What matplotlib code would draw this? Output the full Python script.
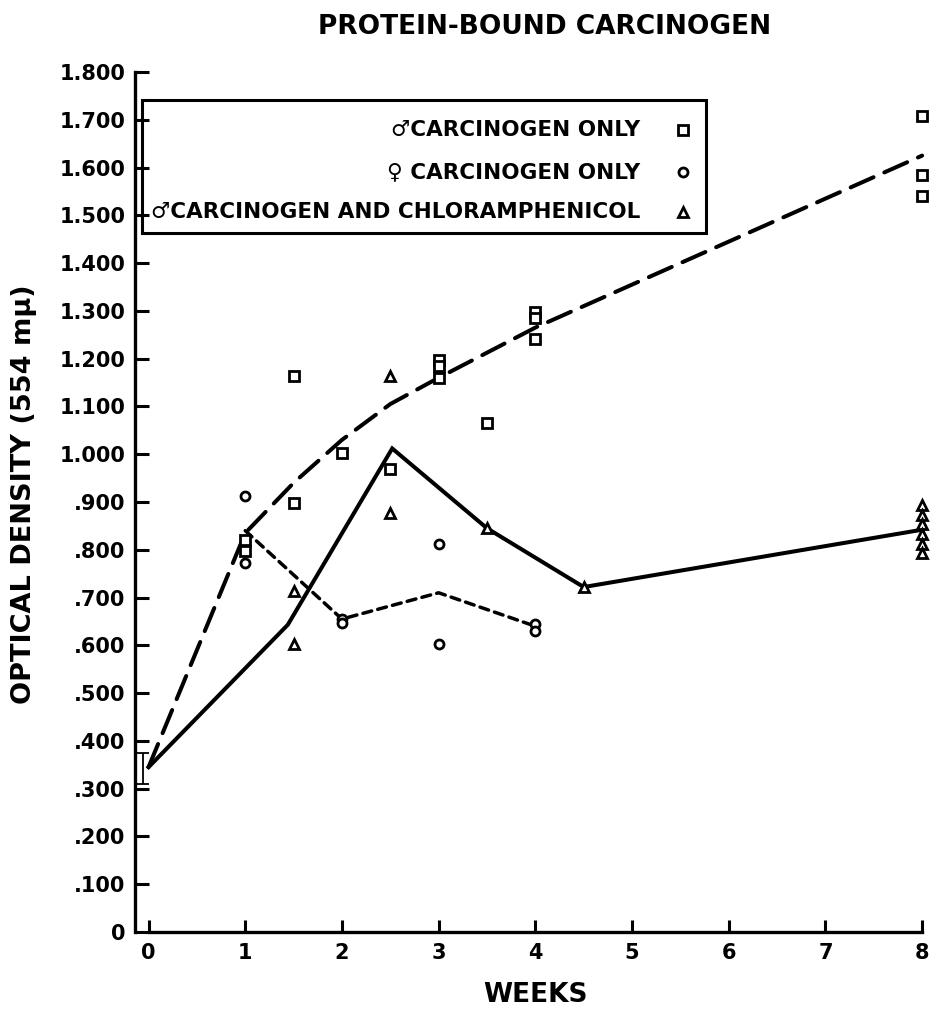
import matplotlib
matplotlib.use("Agg")
import matplotlib.pyplot as plt
from matplotlib.patches import Rectangle
from matplotlib.lines import Line2D

plt.rcParams['font.family'] = ['DejaVu Sans']
plt.rcParams['lines.scale_dashes'] = False

# ---------------- data ----------------
weeks_ticks = [0, 1, 2, 3, 4, 5, 6, 7, 8]
y_ticks = [0, 0.1, 0.2, 0.3, 0.4, 0.5, 0.6, 0.7, 0.8, 0.9, 1.0,
           1.1, 1.2, 1.3, 1.4, 1.5, 1.6, 1.7, 1.8]
y_tick_labels = ["0", ".100", ".200", ".300", ".400", ".500", ".600", ".700",
                 ".800", ".900", "1.000", "1.100", "1.200", "1.300", "1.400",
                 "1.500", "1.600", "1.700", "1.800"]

# individual observations
male_weeks = [1, 1, 1.5, 1.5, 2, 2.5, 3, 3, 3, 3.5, 4, 4, 4, 8, 8, 8]
male_vals = [0.820, 0.797, 1.163, 0.897, 1.003, 0.970, 1.197, 1.185, 1.159,
             1.065, 1.297, 1.285, 1.242, 1.707, 1.584, 1.540]

female_weeks = [1, 1, 2, 2, 3, 3, 4, 4]
female_vals = [0.913, 0.773, 0.655, 0.647, 0.812, 0.603, 0.645, 0.630]

chl_weeks = [1.5, 1.5, 2.5, 2.5, 3.5, 4.5, 8, 8, 8, 8, 8, 8]
chl_vals = [0.714, 0.603, 1.164, 0.878, 0.845, 0.722,
            0.893, 0.873, 0.853, 0.833, 0.813, 0.793]

# curves
male_line_w = [0, 1, 1.5, 2, 2.5, 3, 3.5, 4, 8]
male_line_v = [0.345, 0.835, 0.94, 1.03, 1.105, 1.16, 1.2125, 1.265, 1.625]
female_line_w = [1, 2, 3, 4]
female_line_v = [0.84, 0.655, 0.71, 0.64]
chl_line_w = [0, 1.44, 2.52, 3.5, 4.5, 8]
chl_line_v = [0.345, 0.643, 1.012, 0.845, 0.722, 0.842]

# baseline (week 0) mean with range
base_w = [-0.06]
base_mean = [0.342]
base_err = [0.032]

# ---------------- figure ----------------
W, H = 932, 1010
fig = plt.figure(figsize=(W / 100, H / 100), dpi=100)
ax = fig.add_axes([135 / W, 1 - 932 / H, (931.8 - 135) / W, 860 / H])
ax.set_xlim(-0.14, 8.1)
ax.set_ylim(0, 1.8)

for s in ['top', 'right']:
    ax.spines[s].set_visible(False)
ax.spines['left'].set_linewidth(2.4)
ax.spines['bottom'].set_linewidth(2.4)
ax.spines['left'].set_bounds(0, 1.8)
ax.spines['bottom'].set_bounds(0, 8)

ax.set_xticks(weeks_ticks)
ax.set_xticklabels([str(w) for w in weeks_ticks])
ax.set_yticks(y_ticks)
ax.set_yticklabels(y_tick_labels)
ax.tick_params(axis='y', direction='in', length=10, width=2.2, pad=7,
               labelsize=15)
ax.tick_params(axis='x', direction='in', length=9, width=2.2, pad=8,
               labelsize=15)
for lab in ax.get_xticklabels() + ax.get_yticklabels():
    lab.set_fontweight('bold')

# lines
ax.plot(male_line_w, male_line_v, color='black', lw=2.9,
        dashes=(18, 8.5), solid_capstyle='round', dash_capstyle='round')
ax.plot(female_line_w, female_line_v, color='black', lw=2.5,
        dashes=(6.5, 4.5), dash_capstyle='round')
ax.plot(chl_line_w, chl_line_v, color='black', lw=2.9,
        solid_joinstyle='miter')

# observations
ax.plot(male_weeks, male_vals, ls='none', marker='s', ms=7, mew=2,
        mfc='white', mec='black', clip_on=False)
ax.plot(female_weeks, female_vals, ls='none', marker='o', ms=6.5, mew=2,
        mfc='white', mec='black', clip_on=False)
ax.plot(chl_weeks, chl_vals, ls='none', marker='^', ms=7.5, mew=2,
        mfc='white', mec='black', clip_on=False)

ax.errorbar(base_w, base_mean, yerr=[base_err, base_err], fmt='none',
            ecolor='black', elinewidth=1.3, capsize=4, capthick=1.3)

# title and labels
fig.text(545 / W, 1 - 27 / H, "PROTEIN-BOUND CARCINOGEN", ha='center',
         va='center', fontsize=19, fontweight='bold')
fig.text(535 / W, 1 - 995 / H, "WEEKS", ha='center', va='center',
         fontsize=19, fontweight='bold')
fig.text(24 / W, 1 - 494 / H, "OPTICAL DENSITY (554 mμ)", ha='center',
         va='center', rotation=90, fontsize=19.5, fontweight='bold')

# legend box
fig.add_artist(Rectangle((142 / W, 1 - 233 / H), (706 - 142) / W,
                         (233 - 100) / H, transform=fig.transFigure,
                         fill=False, lw=2.2, ec='black'))
leg_rows = ["♂CARCINOGEN ONLY", "♀ CARCINOGEN ONLY",
            "♂CARCINOGEN AND CHLORAMPHENICOL"]
leg_markers = ['s', 'o', '^']
leg_y = [130, 172, 212]
for txt, mk, yy in zip(leg_rows, leg_markers, leg_y):
    fig.text(640 / W, 1 - yy / H, txt, ha='right', va='center',
             fontsize=15.5, fontweight='bold')
    fig.add_artist(Line2D([683 / W], [1 - yy / H], transform=fig.transFigure,
                          marker=mk, ms=6.5, mew=2, mfc='white',
                          mec='black', ls='none'))

fig.savefig("out.png", dpi=100)
